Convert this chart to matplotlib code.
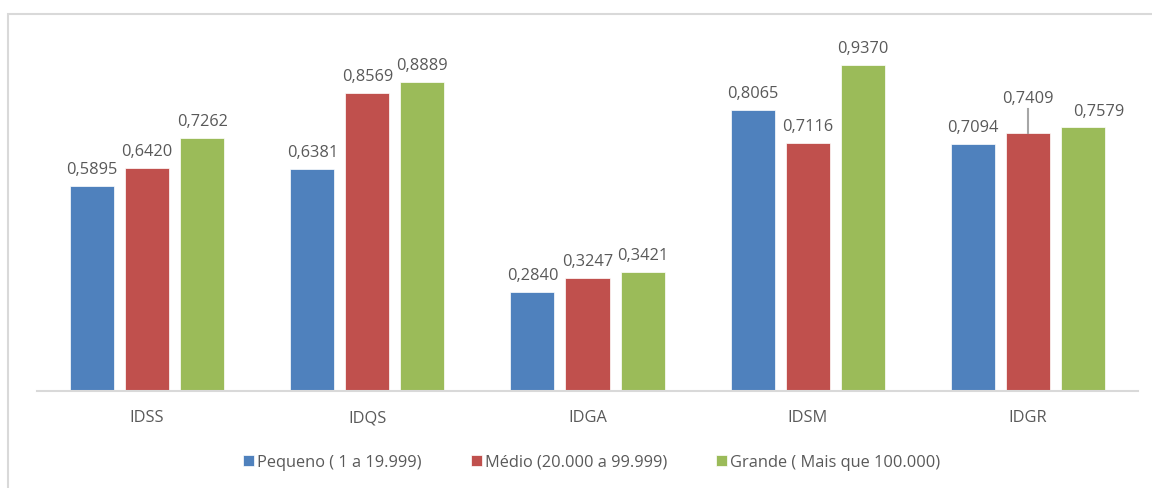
import matplotlib.pyplot as plt
import numpy as np
from matplotlib.patches import Rectangle

plt.rcParams['font.family'] = ['Open Sans', 'DejaVu Sans']

indices = ["IDSS", "IDQS", "IDGA", "IDSM", "IDGR"]
series = ["Pequeno ( 1 a 19.999)", "Médio (20.000 a 99.999)", "Grande ( Mais que 100.000)"]
pequeno = [0.5895, 0.6381, 0.2840, 0.8065, 0.7094]
medio = [0.6420, 0.8569, 0.3247, 0.7116, 0.7409]
grande = [0.7262, 0.8889, 0.3421, 0.9370, 0.7579]
cores = ["#4F81BD", "#C0504D", "#9BBB59"]

fig = plt.figure(figsize=(11.52, 4.89), dpi=100)
ax = fig.add_axes([37/1152, 1 - 392/489, 1101/1152, 348/489])

# moldura cinza do gráfico
fig.patches.append(Rectangle((8/1152, -0.1), 1.2, 1.1 - 15/489, transform=fig.transFigure,
                             fill=False, edgecolor="#d9d9d9", linewidth=1.5))

x = np.arange(len(indices))
largura = 0.2
passo = 0.25
texto = "#595959"
fs = 11.8

for i, (valores, nome, cor) in enumerate(zip([pequeno, medio, grande], series, cores)):
    pos = x + (i - 1) * passo
    ax.bar(pos, valores, largura, color=cor, label=nome, edgecolor="white", linewidth=0.5)
    for j, (p, v) in enumerate(zip(pos, valores)):
        dx, dy = 0, 9
        if indices[j] == "IDGR" and i == 1:
            # rótulo deslocado com linha de chamada
            dy = 27
            ax.plot([p, p], [v, v + 24/348], color="#a6a6a6", linewidth=1.5, zorder=3)
        if indices[j] == "IDGR" and i == 2:
            dx, dy = 16, 8
        ax.annotate(f"{v:.4f}".replace(".", ","), (p, v), xytext=(dx, dy),
                    textcoords="offset pixels", ha="center", va="bottom",
                    fontsize=fs, color=texto)

ax.set_xlim(-0.5, 4.5)
ax.set_ylim(0, 1)
ax.set_xticks(x)
ax.set_xticklabels(indices, fontsize=fs, color=texto)
ax.tick_params(axis="x", length=0, pad=13)
ax.set_yticks([])
for lado in ["top", "right", "left"]:
    ax.spines[lado].set_visible(False)
ax.spines["bottom"].set_color("#d9d9d9")
ax.spines["bottom"].set_linewidth(1.5)

leg = fig.legend(loc="center", bbox_to_anchor=(592/1152, 1 - 463/489), ncol=3, frameon=False,
                 fontsize=fs, handlelength=0.65, handleheight=0.65, handletextpad=0.2,
                 columnspacing=3.0)
for t in leg.get_texts():
    t.set_color(texto)

fig.savefig("out.png", dpi=100)
